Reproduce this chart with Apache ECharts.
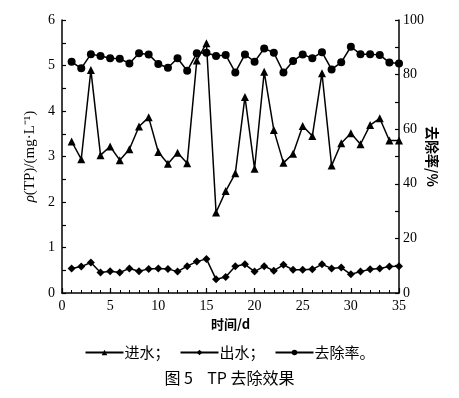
<!DOCTYPE html>
<html><head><meta charset="utf-8">
<script src="https://cdn.jsdelivr.net/npm/echarts@6/dist/echarts.min.js"></script>
<style>html,body{margin:0;padding:0;background:#fff}#c{width:459px;height:398px}</style>
</head><body><div id="c"></div>
<script>
const days = [1,2,3,4,5,6,7,8,9,10,11,12,13,14,15,16,17,18,19,20,21,22,23,24,25,26,27,28,29,30,31,32,33,34,35];
const inflow = [3.33,2.94,4.90,3.03,3.22,2.92,3.16,3.66,3.86,3.10,2.84,3.08,2.85,5.11,5.49,1.77,2.24,2.63,4.31,2.73,4.86,3.58,2.86,3.06,3.67,3.45,4.83,2.80,3.29,3.51,3.27,3.69,3.84,3.35,3.35];
const outflow = [0.54,0.58,0.67,0.45,0.48,0.45,0.54,0.48,0.53,0.54,0.53,0.47,0.59,0.69,0.75,0.30,0.35,0.59,0.63,0.47,0.59,0.49,0.62,0.51,0.51,0.52,0.63,0.54,0.56,0.41,0.47,0.52,0.54,0.58,0.59];
const removal = [84.7,82.3,87.5,86.8,86.0,85.8,84.1,87.8,87.4,83.9,82.5,86.0,81.4,87.8,88.0,86.8,87.2,80.8,87.4,84.7,89.6,88.0,80.8,85.0,87.4,86.0,88.2,81.9,84.5,90.2,87.5,87.5,87.2,84.4,84.1];
const seriesNames = ['进水','出水','去除率'];
const xTicks = [0,5,10,15,20,25,30,35];

const serif = 'Liberation Serif';
const cjk = 'Noto Sans CJK SC';
const pair = arr => days.map((d,i)=>[d,arr[i]]);
const lineStyle = {color:'#000', width:1.5};
const chart = echarts.init(document.getElementById('c'));
chart.setOption({
  animation:false,
  backgroundColor:'#fff',
  title:{text:'图 5    TP 去除效果', left:'center', top:365,
    textStyle:{fontFamily:cjk, fontSize:16, fontWeight:'normal', color:'#000'}},
  legend:{top:340, left:'center', itemWidth:38, itemHeight:7, itemGap:10,
    data:seriesNames,
    formatter: n => n + (n==='去除率' ? '。' : '；'),
    textStyle:{fontFamily:cjk, fontSize:15, color:'#000', padding:[0,0,0,-4]}},
  grid:{left:62, right:60, top:20, bottom:105},
  xAxis:{type:'value', min:0, max:35, interval:5,
    name:'时间/d', nameLocation:'middle', nameGap:24,
    nameTextStyle:{fontFamily:cjk, fontSize:13, fontWeight:'bold', color:'#000'},
    axisLine:{lineStyle:{color:'#000', width:1.5}},
    axisTick:{inside:true, length:5, lineStyle:{color:'#000', width:1.2}},
    minorTick:{show:true, splitNumber:5, length:3, lineStyle:{color:'#000', width:1}},
    axisLabel:{fontFamily:serif, fontSize:14, color:'#000', margin:6,
      formatter: v => xTicks.includes(v) ? String(v) : ''},
    splitLine:{show:false}},
  yAxis:[
    {type:'value', min:0, max:6, interval:1, position:'left',
     name:'{i|ρ}(TP)/(mg·L⁻¹)', nameLocation:'middle', nameGap:21, nameRotate:90,
     nameTextStyle:{fontFamily:serif, fontSize:15, color:'#000',
       rich:{i:{fontFamily:serif, fontSize:15, fontStyle:'italic', color:'#000'}}},
     axisLine:{show:true, lineStyle:{color:'#000', width:1.5}},
     axisTick:{show:true, inside:true, length:4, lineStyle:{color:'#000', width:1.2}},
     minorTick:{show:true, splitNumber:2, length:4, lineStyle:{color:'#000', width:1.2}},
     axisLabel:{fontFamily:serif, fontSize:14, color:'#000', margin:7},
     splitLine:{show:false}},
    {type:'value', min:0, max:100, interval:20, position:'right',
     name:'去除率/%', nameLocation:'middle', nameGap:26, nameRotate:-90, nameMoveOverlap:false,
     nameTextStyle:{fontFamily:cjk, fontSize:14, fontWeight:'bold', color:'#000'},
     axisLine:{show:true, lineStyle:{color:'#000', width:1.5}},
     axisTick:{show:true, inside:true, length:4, lineStyle:{color:'#000', width:1.2}},
     minorTick:{show:true, splitNumber:2, length:4, lineStyle:{color:'#000', width:1.2}},
     axisLabel:{fontFamily:serif, fontSize:14, color:'#000', margin:4},
     splitLine:{show:false}}
  ],
  series:[
    {name:seriesNames[0], type:'line', yAxisIndex:0, data:pair(inflow),
     symbol:'triangle', symbolSize:8, itemStyle:{color:'#000'}, lineStyle},
    {name:seriesNames[1], type:'line', yAxisIndex:0, data:pair(outflow),
     symbol:'diamond', symbolSize:8, itemStyle:{color:'#000'}, lineStyle},
    {name:seriesNames[2], type:'line', yAxisIndex:1, data:pair(removal),
     symbol:'circle', symbolSize:8, itemStyle:{color:'#000'}, lineStyle}
  ]
});
</script></body></html>
